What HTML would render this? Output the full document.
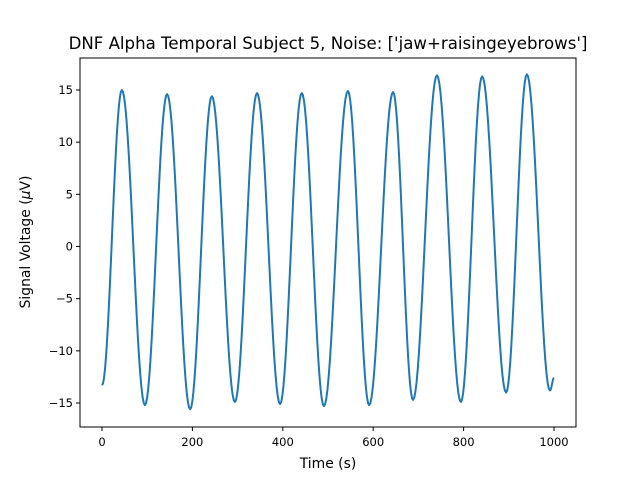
<!DOCTYPE html>
<html><head><meta charset="utf-8"><style>
body{margin:0;background:#fff}
svg text{font-family:"DejaVu Sans","Liberation Sans",sans-serif;fill:#000}
</style></head><body>
<svg id="chart" width="640" height="480">
<rect width="640" height="480" fill="#fff"/>
<text x="328" y="49" font-size="16.6" text-anchor="middle">DNF Alpha Temporal Subject 5, Noise: ['jaw+raisingeyebrows']</text>
<g id="plot"></g>
<rect x="80" y="58" width="496" height="369" fill="none" stroke="#000" stroke-width="1"/>
<text x="328" y="468" font-size="13.9" text-anchor="middle">Time (s)</text>
<text transform="translate(30,242) rotate(-90)" font-size="13.9" text-anchor="middle">Signal Voltage (<tspan font-style="italic">μ</tspan>V)</text>
</svg>
<script>
const extremaTimes=[0,44,95,144,195,243,294,343,394,442,491,544,591,644,688,741,794,841,894,940,991,1000];
const extremaValues=[-13.3,15.0,-15.2,14.6,-15.6,14.4,-14.9,14.7,-15.1,14.7,-15.3,14.9,-15.2,14.8,-14.7,16.4,-14.9,16.3,-14.0,16.5,-13.8,-12.6];
const xTicks=[0,200,400,600,800,1000];
const yTicks=[-15,-10,-5,0,5,10,15];
const xs=t=>102+(t-0)*(554-102)/1000;
const ys=v=>246.5-v*(313/30);
const g=document.getElementById('plot');
const NS='http://www.w3.org/2000/svg';
function mk(tag,attrs){const e=document.createElementNS(NS,tag);for(const k in attrs)e.setAttribute(k,attrs[k]);return e;}
xTicks.forEach(t=>{
  const l=mk('line',{x1:xs(t),x2:xs(t),y1:427,y2:431,stroke:'#000'});
  
  
  g.appendChild(l);
  const tx=mk('text',{x:xs(t),y:446,'font-size':11.5,'text-anchor':'middle'});
  tx.textContent=t;
  
  
  g.appendChild(tx);
});
yTicks.forEach(v=>{
  const l=mk('line',{x1:76,x2:80,y1:ys(v),y2:ys(v),stroke:'#000'});
  
  
  g.appendChild(l);
  const tx=mk('text',{x:73,y:ys(v)+4,'font-size':11.5,'text-anchor':'end'});
  tx.textContent=v<0?'\u2212'+Math.abs(v):v;
  
  
  g.appendChild(tx);
});
let d='';
for(let i=0;i<extremaTimes.length-1;i++){
  const t0=extremaTimes[i],t1=extremaTimes[i+1],v0=extremaValues[i],v1=extremaValues[i+1];
  const n=20;
  for(let k=(i==0?0:1);k<=n;k++){
    const f=k/n,t=t0+(t1-t0)*f,v=v0+(v1-v0)*(1-Math.cos(Math.PI*f))/2;
    d+=(d?'L':'M')+xs(t).toFixed(2)+','+ys(v).toFixed(2);
  }
}
const p=mk('path',{d:d,fill:'none',stroke:'#1f77b4','stroke-width':2,'stroke-linejoin':'round'});


g.appendChild(p);
</script>
</body></html>
